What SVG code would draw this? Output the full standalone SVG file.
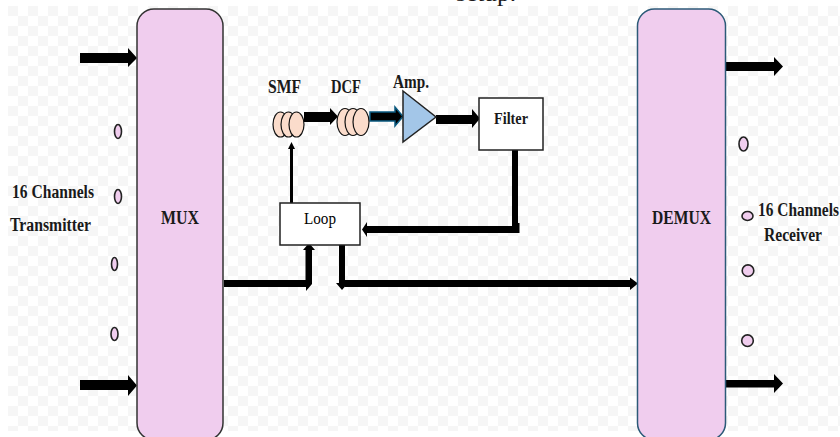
<svg xmlns="http://www.w3.org/2000/svg" width="840" height="437" viewBox="0 0 840 437">
<style>
text{font-family:"Liberation Serif","Times New Roman",serif;font-weight:bold;fill:#1a1a1a;font-size:18px}
.mux{fill:#f0cdee;stroke:#333;stroke-width:1.5}
.dot{fill:#f0cdee;stroke:#222;stroke-width:1.6}
.box{fill:#fff;stroke:#222;stroke-width:1.5}
.coil{fill:#fbdccb;stroke:#111;stroke-width:1.2}
</style>
<defs>
<pattern id="chk" width="20" height="20" patternUnits="userSpaceOnUse" x="8" y="6">
<rect x="0" y="0" width="10" height="10" fill="#f6f6f6"/><rect x="10" y="10" width="10" height="10" fill="#f6f6f6"/>
</pattern>
</defs>
<rect width="840" height="437" fill="#fff"/>
<rect x="8" y="6" width="832" height="425" fill="url(#chk)"/>
<text x="456" y="0.500" textLength="60" lengthAdjust="spacingAndGlyphs" style="font-weight:normal;font-size:22px">setup.</text>
<g id="connectors" fill="#000">
<path d="M80 53H128V48L137 58L128 67V63H80z"/>
<path d="M80 380H128V375L137 385.500L128 396V390H80z"/>
<path d="M726 62H774V57L783 66.500L774 76V71H726z"/>
<path d="M726 380H774V374L783 383.500L774 393V387.500H726z"/>
<path d="M224 280H305.500V250H303L309 243L315 250H312V284L306 291V287H224z"/>
<path d="M339 245H345V280H630V277.500L638 283.500L630 290V287H345V283H348L342 290L336 283H339z"/>
<path d="M290 203V149H288L291.500 142L295 149H293V203z"/>
<path d="M512 150H518V223H519.500V233H367V237L362 229.500L367 222V226H512z"/>
<path d="M304 112H330V108L338 116.500L330 125V122H304z"/>
<path d="M370 112H395V107L403 116.500L395 126V121H370z" stroke="#0a5a80" stroke-width="1.500"/>
<path d="M436 115H472V109L480 118.500L472 128V124H436z"/>
</g>
<g id="mux"><rect class="mux" x="137" y="9" width="86" height="431" rx="17"/><text x="161" y="224" textLength="38" lengthAdjust="spacingAndGlyphs">MUX</text></g>
<g id="demux"><rect class="mux" style="stroke:#2c5a78" x="637.500" y="9" width="88" height="431" rx="17"/><text x="652" y="224" textLength="59" lengthAdjust="spacingAndGlyphs">DEMUX</text></g>
<g id="tx-label"><text x="12" y="198" textLength="82" lengthAdjust="spacingAndGlyphs">16 Channels</text><text x="10" y="231" textLength="81" lengthAdjust="spacingAndGlyphs">Transmitter</text></g>
<g id="rx-label"><text x="758" y="216" textLength="81" lengthAdjust="spacingAndGlyphs">16 Channels</text><text x="764" y="241" textLength="58" lengthAdjust="spacingAndGlyphs">Receiver</text></g>
<g id="tx-dots">
<ellipse class="dot" cx="118" cy="131.500" rx="3.500" ry="7"/>
<ellipse class="dot" cx="118" cy="196.500" rx="3.500" ry="7"/>
<ellipse class="dot" cx="114.500" cy="264" rx="3" ry="6.500"/>
<ellipse class="dot" cx="114.500" cy="334" rx="3.500" ry="6.500"/>
</g>
<g id="rx-dots">
<ellipse class="dot" cx="743.500" cy="144" rx="4.500" ry="7"/>
<ellipse class="dot" cx="747.500" cy="216" rx="5.500" ry="4.500"/>
<circle class="dot" cx="748" cy="270.700" r="5.800"/>
<circle class="dot" cx="747.500" cy="340.700" r="5.800"/>
</g>
<g id="smf"><text x="268" y="93" textLength="33" lengthAdjust="spacingAndGlyphs">SMF</text>
<ellipse class="coil" cx="280.500" cy="124.500" rx="7.500" ry="12.500"/><ellipse class="coil" cx="288.500" cy="124.500" rx="7.500" ry="12.500"/><ellipse class="coil" cx="296.500" cy="124.500" rx="7.500" ry="12.500"/></g>
<g id="dcf"><text x="331" y="93" textLength="30" lengthAdjust="spacingAndGlyphs">DCF</text>
<ellipse class="coil" cx="345" cy="122" rx="8" ry="13.500"/><ellipse class="coil" cx="353" cy="122" rx="8" ry="13.500"/><ellipse class="coil" cx="361" cy="122" rx="8" ry="13.500"/></g>
<g id="amp"><text x="393" y="88" textLength="36" lengthAdjust="spacingAndGlyphs">Amp.</text><path d="M403 91L436 117L403 142z" fill="#a3c6e8" stroke="#222" stroke-width="1.500"/></g>
<g id="filter"><rect class="box" x="479" y="98" width="64" height="52"/><text x="494" y="124" textLength="34" lengthAdjust="spacingAndGlyphs" style="font-size:17px">Filter</text></g>
<g id="loop"><rect class="box" x="280" y="203" width="80" height="42"/><text x="304" y="224" textLength="32" lengthAdjust="spacingAndGlyphs" style="font-weight:normal;font-size:17px;fill:#000">Loop</text></g>
</svg>
